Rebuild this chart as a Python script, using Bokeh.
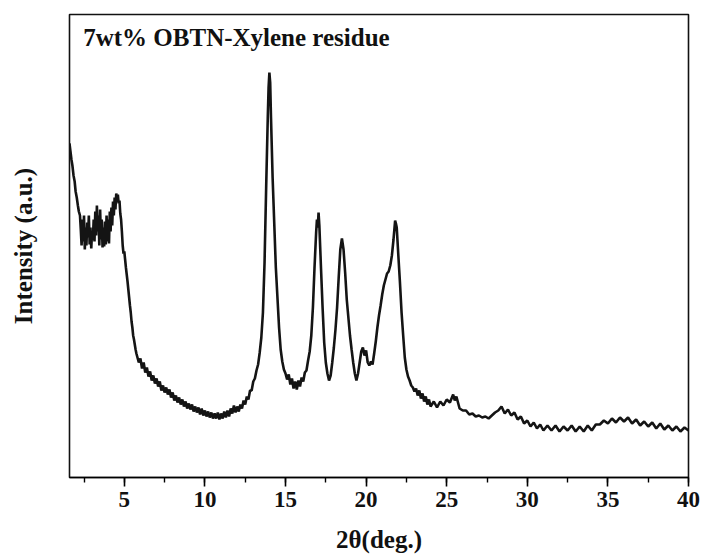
from bokeh.plotting import figure
from bokeh.models import Label, SingleIntervalTicker, FixedTicker, Range1d
from bokeh.embed import file_html
from bokeh.resources import INLINE

# XRD scan of the 7wt% OBTN-Xylene residue (2-theta in degrees, intensity in a.u.)
two_theta = [
    1.60, 1.66, 1.72, 1.78, 1.85, 1.92, 1.98, 2.05, 2.12, 2.18, 2.25,
    2.30, 2.35, 2.40, 2.45, 2.50, 2.55, 2.60, 2.65, 2.70, 2.75, 2.80, 2.85, 2.90, 2.95,
    3.00, 3.05, 3.10, 3.15, 3.20, 3.25, 3.30, 3.35, 3.40, 3.45, 3.50, 3.55, 3.60, 3.65,
    3.70, 3.75, 3.80, 3.85, 3.90, 3.95, 4.00, 4.05, 4.10, 4.15, 4.20, 4.25, 4.30, 4.35,
    4.40, 4.45, 4.50, 4.55, 4.60, 4.65, 4.70, 4.75, 4.80, 4.85, 4.90, 4.95,
    5.00, 5.05, 5.10, 5.15, 5.20, 5.25, 5.30, 5.35, 5.40, 5.45, 5.50, 5.55, 5.60, 5.65,
    5.70, 5.75, 5.80, 5.85, 5.90, 6.00, 6.10, 6.20, 6.30, 6.40, 6.50, 6.60, 6.70, 6.80,
    6.90, 7.00, 7.10, 7.20, 7.30, 7.40, 7.50, 7.60, 7.70, 7.80, 7.90, 8.00,
    8.10, 8.20, 8.30, 8.40, 8.50, 8.60, 8.70, 8.80, 8.90, 9.00, 9.10, 9.20, 9.30, 9.40,
    9.50, 9.60, 9.70, 9.80, 9.90, 10.00, 10.10, 10.20, 10.30, 10.40, 10.50, 10.60, 10.70,
    10.80, 10.90, 11.00, 11.10, 11.20, 11.30, 11.40, 11.50, 11.60, 11.70, 11.80, 11.90,
    12.00, 12.10, 12.20, 12.30, 12.40, 12.50, 12.60, 12.70, 12.80, 12.90, 13.00, 13.10,
    13.20, 13.30, 13.40, 13.50, 13.60, 13.70, 13.80, 13.90, 13.95, 14.00, 14.05, 14.10,
    14.20, 14.30, 14.40, 14.50, 14.60, 14.70, 14.80, 14.90, 15.00, 15.10, 15.20, 15.30,
    15.40, 15.50, 15.60, 15.70, 15.80, 15.90, 16.00, 16.10, 16.20, 16.30, 16.40,
    16.50, 16.60, 16.70, 16.80, 16.90, 16.95, 17.00, 17.05, 17.10, 17.20, 17.30, 17.40,
    17.50, 17.60, 17.70, 17.80, 17.90, 18.00, 18.10, 18.20, 18.30, 18.40, 18.50, 18.60,
    18.70, 18.80, 18.90, 19.00, 19.10, 19.20, 19.30, 19.40, 19.50, 19.60, 19.70, 19.80,
    19.90, 20.00, 20.10, 20.20, 20.30, 20.40, 20.50, 20.60, 20.70, 20.80, 20.90, 21.00,
    21.10, 21.20, 21.30, 21.40, 21.50, 21.60, 21.70, 21.80, 21.85, 21.90, 22.00, 22.10,
    22.20, 22.30, 22.40, 22.50, 22.60, 22.70, 22.80, 22.90, 23.00, 23.10, 23.20, 23.30,
    23.40, 23.50, 23.60, 23.70, 23.80, 23.90, 24.00, 24.20, 24.40, 24.60, 24.80, 25.00,
    25.20, 25.40, 25.50, 25.60, 25.80, 26.00, 26.20, 26.40, 26.60, 26.80, 27.00, 27.20,
    27.40, 27.60, 27.80, 28.00, 28.20, 28.40, 28.60, 28.80, 29.00, 29.20, 29.40, 29.60,
    29.80, 30.00, 30.20, 30.40, 30.60, 30.80, 31.00, 31.25, 31.50, 31.75, 32.00, 32.25,
    32.50, 32.75, 33.00, 33.25, 33.50, 33.75, 34.00, 34.25, 34.50, 34.75, 35.00, 35.25,
    35.50, 35.75, 36.00, 36.25, 36.50, 36.75, 37.00, 37.25, 37.50, 37.75, 38.00, 38.25,
    38.50, 38.75, 39.00, 39.25, 39.50, 39.75, 40.00,
]

intensity = [
    334, 326, 318, 312, 302, 296, 286, 280, 272, 266, 262,
    248, 232, 258, 236, 262, 228, 250, 232, 255, 240, 262, 233, 250, 229,
    246, 238, 258, 236, 266, 242, 272, 246, 262, 232, 268, 238, 258, 230,
    250, 231, 256, 233, 262, 236, 258, 234, 266, 246, 270, 252, 276, 262,
    280, 268, 284, 276, 283, 274, 277, 264, 258, 246, 232, 224,
    226, 218, 210, 203, 196, 188, 180, 172, 165, 156, 150, 142, 138, 133,
    128, 124, 121, 118, 115, 119, 109, 115, 105, 110, 101, 106, 97, 102,
    94, 99, 91, 96, 87, 92, 85, 90, 83, 88, 80, 85,
    77, 82, 75, 80, 73, 78, 71, 76, 69, 74, 68, 73, 66, 71,
    65, 70, 63, 69, 62, 67, 61, 66, 60, 65, 59, 64, 59,
    65, 58, 64, 59, 66, 60, 67, 61, 69, 64, 72, 65,
    71, 66, 73, 69, 77, 73, 81, 78, 87, 87, 96, 99,
    107, 113, 125, 140, 165, 215, 290, 360, 390, 405, 395, 360,
    300, 255, 210, 180, 150, 128, 116, 108, 104, 98, 103, 93,
    99, 89, 96, 88, 97, 91, 100, 96, 105, 107, 117,
    126, 142, 170, 210, 245, 258, 250, 265, 252, 210, 170, 135,
    115, 104, 97, 102, 115, 130, 148, 170, 200, 228, 239, 228,
    205, 178, 160, 142, 128, 115, 104, 97, 104, 115, 126, 130,
    122, 127, 115, 112, 116, 113, 124, 136, 150, 162, 172, 183,
    192, 198, 204, 206, 212, 222, 238, 257, 254, 250, 222, 195,
    165, 142, 120, 108, 101, 97, 92, 90, 86, 89, 82, 87,
    79, 84, 76, 81, 73, 78, 71, 76, 70, 76, 72, 78,
    75, 83, 77, 81, 69, 67, 67, 63, 64, 61, 62, 60,
    61, 59, 62, 65, 67, 71, 64, 68, 62, 65, 58, 61,
    54, 57, 51, 55, 49, 53, 47, 52, 47, 52, 46, 51,
    47, 52, 46, 51, 46, 52, 47, 53, 53, 57, 54, 59,
    55, 60, 56, 60, 54, 58, 52, 56, 51, 55, 49, 54,
    48, 52, 47, 51, 46, 50, 47,
]

x_ticks_major = 5
serif = "Liberation Serif"

p = figure(
    width=704, height=558,
    x_range=Range1d(1.6, 40), y_range=Range1d(0, 463),
    output_backend="svg", toolbar_location=None,
    min_border_left=69, min_border_right=16,
    min_border_top=14, min_border_bottom=81,
)
p.xgrid.visible = False
p.ygrid.visible = False
p.outline_line_color = "#111111"
p.outline_line_width = 1.6
p.background_fill_color = "white"
p.border_fill_color = "white"

p.line(two_theta, intensity, line_color="#141414", line_width=2.6)

# bottom axis: majors every 5 deg, one minor in between, ticks pointing out
p.xaxis.ticker = SingleIntervalTicker(interval=x_ticks_major, num_minor_ticks=2)
p.xaxis.major_tick_in = 0
p.xaxis.major_tick_out = 9
p.xaxis.minor_tick_in = 0
p.xaxis.minor_tick_out = 5
p.xaxis.axis_line_width = 1.6
p.xaxis.major_tick_line_width = 1.6
p.xaxis.minor_tick_line_width = 1.4
p.xaxis.major_label_standoff = 5
p.xaxis.major_label_text_font = serif
p.xaxis.major_label_text_font_style = "bold"
p.xaxis.major_label_text_font_size = "23px"
p.xaxis.major_label_text_color = "#111111"
p.xaxis.axis_label = "2θ(deg.)"
p.xaxis.axis_label_text_font = serif
p.xaxis.axis_label_text_font_style = "bold"
p.xaxis.axis_label_text_font_size = "25px"
p.xaxis.axis_label_text_color = "#111111"
p.xaxis.axis_label_standoff = 16

# left axis carries only its title
p.yaxis.ticker = FixedTicker(ticks=[])
p.yaxis.axis_line_color = None
p.yaxis.axis_label = "Intensity (a.u.)"
p.yaxis.axis_label_text_font = serif
p.yaxis.axis_label_text_font_style = "bold"
p.yaxis.axis_label_text_font_size = "25px"
p.yaxis.axis_label_text_color = "#111111"
p.yaxis.axis_label_standoff = 33

p.add_layout(Label(
    x=2.45, y=454, text="7wt% OBTN-Xylene residue",
    text_font=serif, text_font_style="bold", text_font_size="25px",
    text_color="#111111", text_baseline="top", text_align="left",
))

open("out.html", "w").write(file_html(p, INLINE))
